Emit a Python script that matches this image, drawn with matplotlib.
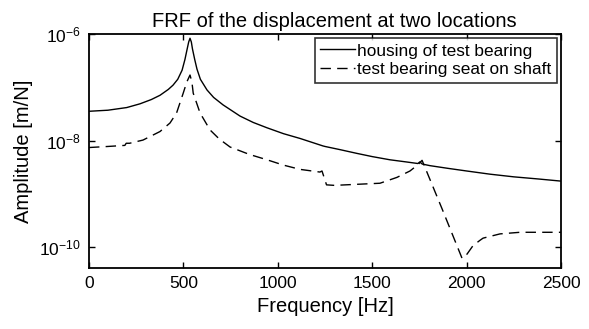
import numpy as np
import matplotlib
matplotlib.use("Agg")
import matplotlib.pyplot as plt

# values (frequency in Hz, log10 of amplitude in m/N)
housing_freq = [0, 100, 200, 270, 330, 376, 420, 445, 470, 493, 508, 520, 528, 535,
                542, 548, 560, 572, 590, 625, 660, 710, 800, 870, 943, 1030, 1118,
                1239, 1250, 1330, 1419, 1500, 1594, 1680, 1742, 1752, 1765, 1806,
                1900, 2000, 2124, 2250, 2380, 2500]
housing_log = [-7.45, -7.43, -7.38, -7.31, -7.23, -7.15, -7.04, -6.96, -6.85, -6.68,
               -6.48, -6.28, -6.15, -6.08, -6.15, -6.28, -6.48, -6.66, -6.85, -7.05,
               -7.19, -7.33, -7.54, -7.66, -7.76, -7.87, -7.96, -8.10, -8.11, -8.17,
               -8.24, -8.30, -8.36, -8.40, -8.43, -8.40, -8.44, -8.47, -8.52, -8.57,
               -8.63, -8.68, -8.72, -8.76]

shaft_freq = [0, 100, 190, 197, 215, 286, 376, 429, 464, 499, 518, 535, 545, 552,
              588, 641, 690, 747, 850, 943, 1030, 1118, 1223, 1234, 1258, 1300,
              1419, 1541, 1631, 1700, 1743, 1764, 1870, 1976, 2002, 2034, 2071,
              2087, 2177, 2283, 2500]
shaft_log = [-8.13, -8.11, -8.09, -8.05, -8.05, -7.99, -7.83, -7.67, -7.48, -7.11,
             -6.90, -6.77, -6.90, -7.11, -7.48, -7.80, -7.97, -8.12, -8.26, -8.36,
             -8.46, -8.54, -8.59, -8.57, -8.83, -8.84, -8.82, -8.80, -8.69, -8.57,
             -8.45, -8.37, -9.28, -10.21, -10.13, -9.97, -9.87, -9.83, -9.75, -9.72,
             -9.72]

labels = ["housing of test bearing", "test bearing seat on shaft"]

plt.rcParams["font.family"] = ["Liberation Sans", "DejaVu Sans"]
plt.rcParams["mathtext.fontset"] = "custom"
plt.rcParams["mathtext.rm"] = "Liberation Sans"
plt.rcParams["mathtext.it"] = "Liberation Sans"

fig = plt.figure(figsize=(5.89, 3.29), dpi=100)
ax = fig.add_axes([0.1511, 0.1854, 0.8014, 0.7113])

ax.plot(housing_freq, 10.0 ** np.array(housing_log), color="black", lw=1.0, label=labels[0])
ax.plot(shaft_freq, 10.0 ** np.array(shaft_log), color="black", lw=1.0,
        dashes=(7.5, 4.5), label=labels[1])

ax.set_yscale("log")
ax.set_xlim(0, 2500)
ax.set_ylim(10 ** -10.39, 1e-6)
ax.set_xticks([0, 500, 1000, 1500, 2000, 2500])
ax.set_yticks([1e-10, 1e-8, 1e-6])
ax.yaxis.set_minor_locator(matplotlib.ticker.NullLocator())
ax.tick_params(direction="in", length=4, width=1, top=True, right=True, labelsize=12.5, pad=6)
for s in ax.spines.values():
    s.set_linewidth(1.3)

ax.set_title("FRF of the displacement at two locations", fontsize=14.5, pad=5, x=0.52)
ax.set_xlabel("Frequency [Hz]", fontsize=14.5, labelpad=4)
ax.set_ylabel("Amplitude [m/N]", fontsize=14.5, labelpad=4)

leg = ax.legend(loc="upper right", fontsize=12.4, frameon=True, fancybox=False,
                edgecolor="black", handlelength=2.0, handletextpad=0.15,
                borderpad=0.3, labelspacing=0.22, borderaxespad=0.25)
leg.get_frame().set_linewidth(1.2)

fig.savefig("out.png", dpi=100)
